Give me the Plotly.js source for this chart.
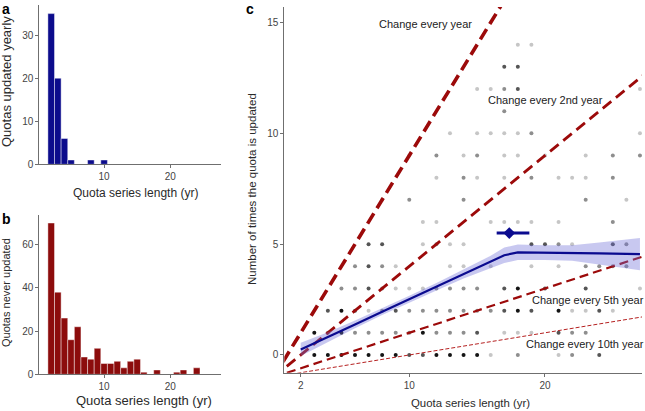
<!DOCTYPE html>
<html>
<head>
<meta charset="utf-8">
<script src="https://cdn.plot.ly/plotly-3.0.1.min.js"></script>
<style>
  html, body { margin: 0; padding: 0; background: #fff; }
  #chart { width: 645px; height: 411px; }
</style>
</head>
<body>
<div id="chart"></div>
<script>
// ---------- Data ----------
// Panel a: quotas updated yearly, by series length
const yearlyLength = [2, 3, 4, 5, 8, 10];
const yearlyCount  = [35, 20, 6, 1, 1, 1];

// Panel b: quotas never updated, by series length
const neverLength = [2, 3, 4, 5, 6, 7, 8, 9, 10, 11, 12, 13, 14, 15, 16, 18, 21, 22, 24];
const neverCount  = [70, 38, 26, 16, 22, 8, 7, 12, 5, 5, 6, 3, 6, 7, 1, 2, 1, 2, 3];

// Panel c: observed (length, number of updates) with shading weight 1 (light) .. 4 (black)
const dotX = [
  3,4,5,6,7,8,9,10,11,12,13,14,15,16,18,21,22,24,
  3,4,5,6,7,8,9,10,11,12,13,14,15,17,18,19,21,22,23,
  4,5,6,7,8,9,10,11,12,13,14,15,16,17,18,19,21,22,23,24,25,
  5,6,7,8,9,10,11,12,13,14,15,17,18,20,23,27,
  6,7,8,9,13,14,16,19,21,23,24,25,26,
  7,8,11,12,13,14,19,20,21,22,25,26,
  11,12,16,17,18,19,21,25,
  8,10,14,23,26,
  12,14,15,17,19,21,22,23,25,
  10,12,14,15,17,18,20,23,25,27,
  13,15,16,17,18,19,27,
  17,
  15,16,17,18,27,
  17,18,
  18,19
];
const dotY = [
  0,0,0,0,0,0,0,0,0,0,0,0,0,0,0,0,0,0,
  1,1,1,1,1,1,1,1,1,1,1,1,1,1,1,1,1,1,1,
  2,2,2,2,2,2,2,2,2,2,2,2,2,2,2,2,2,2,2,2,2,
  3,3,3,3,3,3,3,3,3,3,3,3,3,3,3,3,
  4,4,4,4,4,4,4,4,4,4,4,4,4,
  5,5,5,5,5,5,5,5,5,5,5,5,
  6,6,6,6,6,6,6,6,
  7,7,7,7,7,
  8,8,8,8,8,8,8,8,8,
  9,9,9,9,9,9,9,9,9,9,
  10,10,10,10,10,10,10,
  11,
  12,12,12,12,12,
  13,13,
  14,14
];
const dotW = [
  4,4,4,4,4,4,4,3,3,4,4,4,4,1,2,1,2,3,
  4,2,4,2,2,2,2,2,4,2,2,2,3,1,1,1,3,2,2,
  3,4,3,1,2,3,2,2,2,2,2,2,2,3,4,3,4,1,1,3,1,
  2,2,3,2,1,1,1,2,2,2,2,3,4,3,3,1,
  2,3,2,1,1,1,1,1,1,2,2,2,2,
  3,3,1,2,1,1,3,3,2,1,3,2,
  1,1,1,1,1,1,1,2,
  1,2,2,2,1,
  1,2,1,1,2,1,1,1,2,
  1,2,1,2,1,1,1,1,2,2,
  1,1,1,1,1,2,1,
  2,
  1,1,2,3,1,
  3,3,
  1,1
];

// Smoothed trend with confidence band
const smoothX  = [2, 4, 6, 8, 10, 12, 14, 16, 17, 18, 20, 22, 24, 27];
const smoothY  = [0.25, 0.8, 1.38, 1.95, 2.52, 3.08, 3.65, 4.2, 4.5, 4.63, 4.62, 4.6, 4.58, 4.55];
const smoothLo = [-0.05, 0.58, 1.21, 1.8, 2.37, 2.91, 3.45, 3.92, 4.15, 4.28, 4.29, 4.25, 4.08, 3.82];
const smoothHi = [0.55, 1.02, 1.55, 2.1, 2.67, 3.25, 3.85, 4.48, 4.85, 4.98, 4.95, 4.95, 5.08, 5.28];

// Mean point with horizontal range
const meanX = [17.37], meanY = [5.5], meanPlus = [1.48], meanMinus = [0.93];

// Reference lines: change every k years
const changeEvery = [1, 2, 5, 10];
const changeLabels = ['Change every year', 'Change every 2nd year', 'Change every 5th year', 'Change every 10th year'];
const guideX = [0, 28];

// ---------- Styling ----------
const W = 645, H = 411;
const px = v => v / W;
const py = v => 1 - v / H;
const FONT = 'Liberation Sans, Arial, sans-serif';
const RED = '#9c0a0a';
const BLUE = '#0b0b8f';
const guideStyles = [
  {width: 3.6, dash: '12px,6px', color: RED},
  {width: 2.8, dash: '11px,6px', color: RED},
  {width: 2.2, dash: '9px,5px', color: RED},
  {width: 1.0, dash: '4px,2px', color: '#b52020'}
];

const traces = [];
traces.push({
  type: 'bar', x: yearlyLength, y: yearlyCount, width: 1,
  marker: {color: '#0c0c8c', line: {color: 'rgba(255,255,255,0.55)', width: 0.8}},
  xaxis: 'x', yaxis: 'y', hoverinfo: 'skip'
});
traces.push({
  type: 'bar', x: neverLength, y: neverCount, width: 1,
  marker: {color: '#8c0c0c', line: {color: 'rgba(255,255,255,0.55)', width: 0.8}},
  xaxis: 'x2', yaxis: 'y2', hoverinfo: 'skip'
});
traces.push({
  type: 'scatter', mode: 'markers', x: dotX, y: dotY,
  marker: {size: 4, color: dotW, cmin: 1, cmax: 4,
    colorscale: [[0, '#c6c6c6'], [0.333, '#8e8e8e'], [0.667, '#555555'], [1, '#141414']],
    showscale: false},
  xaxis: 'x3', yaxis: 'y3', hoverinfo: 'skip'
});
changeEvery.forEach((k, i) => {
  traces.push({
    type: 'scatter', mode: 'lines', x: guideX, y: guideX.map(v => v / k - 1),
    line: guideStyles[i], xaxis: 'x3', yaxis: 'y3', hoverinfo: 'skip'
  });
});
traces.push({
  type: 'scatter', mode: 'lines',
  x: smoothX.concat(smoothX.slice().reverse()),
  y: smoothHi.concat(smoothLo.slice().reverse()),
  fill: 'toself', fillcolor: 'rgba(110,110,215,0.38)', line: {width: 0},
  xaxis: 'x3', yaxis: 'y3', hoverinfo: 'skip'
});
traces.push({
  type: 'scatter', mode: 'lines', x: smoothX, y: smoothY,
  line: {color: BLUE, width: 2.2}, xaxis: 'x3', yaxis: 'y3', hoverinfo: 'skip'
});
traces.push({
  type: 'scatter', mode: 'markers', x: meanX, y: meanY,
  marker: {symbol: 'diamond', size: 9, color: BLUE},
  error_x: {type: 'data', symmetric: false, array: meanPlus, arrayminus: meanMinus,
    thickness: 3, width: 0, color: BLUE},
  xaxis: 'x3', yaxis: 'y3', hoverinfo: 'skip'
});

const axBase = {
  showline: true, linecolor: '#6f6f6f', linewidth: 1,
  ticks: 'outside', ticklen: 3, tickcolor: '#6f6f6f', tickwidth: 1,
  showgrid: false, zeroline: false, fixedrange: true,
  tickfont: {family: FONT, size: 10, color: '#444'}
};

const ann = [];
const addText = (text, x, y, size, opts) => ann.push(Object.assign({
  text, x: px(x), y: py(y), xref: 'paper', yref: 'paper', showarrow: false,
  xanchor: 'center', yanchor: 'middle', borderpad: 0,
  font: {family: FONT, size, color: '#2a2a2a'}
}, opts || {}));

// panel letters
addText('<b>a</b>', 1, 0, 14, {xanchor: 'left', yanchor: 'top', font: {family: FONT, size: 14, color: '#000'}});
addText('<b>b</b>', 1, 219, 14, {xanchor: 'left', font: {family: FONT, size: 14, color: '#000'}});
addText('<b>c</b>', 245, 0, 14, {xanchor: 'left', yanchor: 'top', font: {family: FONT, size: 14, color: '#000'}});
// axis titles
addText('Quotas updated yearly', 7, 82, 13, {textangle: -90});
addText('Quota series length (yr)', 135, 193, 12);
addText('Quotas never updated', 6, 293, 11, {textangle: -90});
addText('Quota series length (yr)', 144, 400, 13);
addText('Number of times the quota is updated', 252, 189, 11.5, {textangle: -90});
addText('Quota series length (yr)', 470, 403, 11.4);

// guide labels in data coords of panel c
const labelPos = [
  {x: 11.16, y: 14.95, xanchor: 'center'},
  {x: 20.04, y: 11.49, xanchor: 'center'},
  {x: 18.97, y: 2.48, xanchor: 'left'},
  {x: 18.54, y: 0.5, xanchor: 'left'}
];
changeLabels.forEach((t, i) => ann.push({
  text: t, x: labelPos[i].x, y: labelPos[i].y, xref: 'x3', yref: 'y3',
  xanchor: labelPos[i].xanchor, yanchor: 'middle', showarrow: false, borderpad: 0,
  font: {family: FONT, size: 11, color: '#222'}
}));

const layout = {
  width: W, height: H,
  margin: {l: 0, r: 0, t: 0, b: 0},
  paper_bgcolor: '#fff', plot_bgcolor: 'rgba(0,0,0,0)',
  showlegend: false, bargap: 0,
  font: {family: FONT},
  xaxis: Object.assign({}, axBase, {domain: [px(39.3), px(220.5)], range: [0.2, 27.6],
    tickvals: [10, 20], anchor: 'y'}),
  yaxis: Object.assign({}, axBase, {domain: [py(164.3), py(5)], range: [0, 37],
    tickvals: [0, 10, 20, 30], anchor: 'x'}),
  xaxis2: Object.assign({}, axBase, {domain: [px(39.3), px(220.5)], range: [0.2, 27.6],
    tickvals: [10, 20], anchor: 'y2'}),
  yaxis2: Object.assign({}, axBase, {domain: [py(374.3), py(215)], range: [0, 73.7],
    tickvals: [0, 20, 40, 60], anchor: 'x2'}),
  xaxis3: Object.assign({}, axBase, {domain: [px(284.3), px(642)], range: [0.79, 27.15],
    tickvals: [2, 10, 20], anchor: 'y3'}),
  yaxis3: Object.assign({}, axBase, {domain: [py(372.7), py(7)], range: [-0.8, 15.7],
    tickvals: [0, 5, 10, 15], anchor: 'x3'}),
  annotations: ann
};

Plotly.newPlot('chart', traces, layout, {staticPlot: true, displayModeBar: false});
</script>
</body>
</html>
